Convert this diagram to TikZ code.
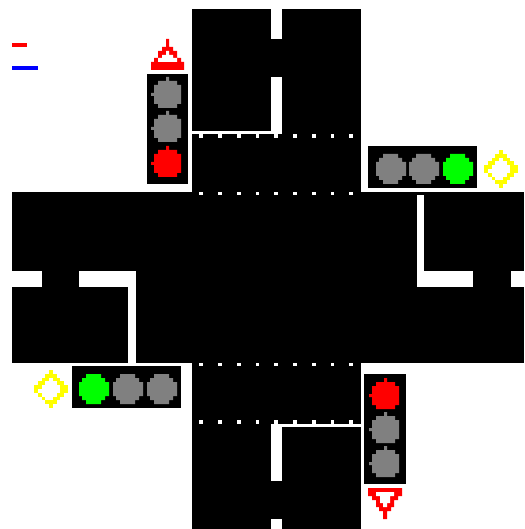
\documentclass[tikz,border=0pt]{standalone}
\definecolor{lampgrey}{gray}{0.5}
\definecolor{signred}{rgb}{1,0,0}
\definecolor{signyellow}{rgb}{1,1,0}
\definecolor{lampgreen}{rgb}{0,1,0}
\definecolor{legendblue}{rgb}{0,0,1}
%% lamp with the two nubs, for the upright signal heads: dx, dy, colour
\newcommand{\nublamp}[3]{%
  \fill[#3,shift={(#1,#2)}] (158,81) -- (177,81) -- (177,85) -- (181,85) -- (181,104) -- (177,104) -- (177,108)
    -- (158,108) -- (158,104) -- (154,104) -- (154,85) -- (158,85) -- cycle
    (166,77) rectangle (169,81) (151,93) rectangle (154,96);}
%% plain lamp, for the lying signal heads: dx, dy, colour
\newcommand{\flatlamp}[3]{%
  \fill[#3,shift={(#1,#2)}] (383,154) -- (398,154) -- (398,158) -- (402,158) -- (402,162) -- (406,162) -- (406,176)
    -- (402,176) -- (402,180) -- (398,180) -- (398,184) -- (383,184) -- (383,180) -- (379,180) -- (379,176)
    -- (376,176) -- (376,162) -- (379,162) -- (379,158) -- (383,158) -- cycle;}
%% the yellow ring, drawn cell by cell: left, top
\newcommand{\ringsign}[2]{%
  \foreach \c/\r in {4/0,3/1,4/1,5/1,2/2,3/2,5/2,6/2,1/3,2/3,6/3,7/3,0/4,1/4,7/4,8/4,0/5,7/5,8/5,
      1/6,6/6,7/6,2/7,5/7,6/7,3/8,4/8,5/8,4/9}
    \fill[signyellow] ({#1+\c*3.78},{#2+\r*3.8}) rectangle ++(3.78,3.8);}
\begin{document}
\begin{tikzpicture}[x=1pt,y=-1pt,
    road/.style={fill=black},
    marking/.style={fill=white},
    head/.style={fill=black}]
  \useasboundingbox (0,0) rectangle (524,529);
  %% legend
  \fill[signred] (12,43) rectangle (27,47);
  \fill[legendblue] (12,66) rectangle (38,70);

  %% the two roads
  \fill[road] (192,9) rectangle (361,529);
  \fill[road] (12,192) rectangle (524,363);

  %% north arm and its stop line
  \fill[marking] (271,9) rectangle (282,39);
  \fill[marking] (271,77) rectangle (282,134);
  \fill[marking] (192,131) rectangle (282,134);
  %% south arm and its stop line
  \fill[marking] (271,424) rectangle (282,481);
  \fill[marking] (271,519) rectangle (282,529);
  \fill[marking] (271,424) rectangle (361,427);
  %% east arm
  \fill[marking] (417,195) rectangle (424,287);
  \fill[marking] (417,271) rectangle (473,287);
  \fill[marking] (511,271) rectangle (524,287);
  %% west arm
  \fill[marking] (12,271) rectangle (42,287);
  \fill[marking] (79,271) rectangle (136,287);
  \fill[marking] (128,271) rectangle (136,363);

  %% crossing dots, four rows
  \foreach \x/\w in {199/4,218/4,237/4,256/3,274/4,293/4,312/4,331/3,349/4} {
    \fill[marking] (\x,134) rectangle ++(\w,4);
    \fill[marking] (\x,192) rectangle ++(\w,3);
    \fill[marking] (\x,363) rectangle ++(\w,3);
    \fill[marking] (\x,420) rectangle ++(\w,4);
  }

  %% signal heads
  \fill[head] (147,74) rectangle (188,184);
  \nublamp{0}{0}{lampgrey}
  \nublamp{0}{34}{lampgrey}
  \nublamp{0}{69}{signred}
  \fill[head] (368,146) rectangle (477,188);
  \flatlamp{0}{0}{lampgrey}
  \flatlamp{33}{0}{lampgrey}
  \flatlamp{67}{0}{lampgreen}
  \fill[head] (72,366) rectangle (181,408);
  \flatlamp{-297}{220}{lampgreen}
  \flatlamp{-263}{220}{lampgrey}
  \flatlamp{-229}{220}{lampgrey}
  \fill[head] (364,374) rectangle (406,484);
  \nublamp{218}{301}{signred}
  \nublamp{218}{335}{lampgrey}
  \nublamp{218}{369}{lampgrey}

  %% red triangles
  \fill[signred] (166,39) -- (169,39) -- (169,47) -- (173,47) -- (173,51) -- (177,51) -- (177,58) -- (181,58)
    -- (181,62) -- (184,62) -- (184,70) -- (151,70) -- (151,62) -- (154,62) -- (154,58) -- (158,58) -- (158,51)
    -- (162,51) -- (162,47) -- (166,47) -- cycle;
  \fill[marking] (158,62) -- (177,62) -- (177,58) -- (173,58) -- (173,55) -- (169,55) -- (169,51) -- (166,51)
    -- (166,55) -- (162,55) -- (162,58) -- (158,58) -- cycle;
  \fill[signred] (368,488) -- (402,488) -- (402,496) -- (398,496) -- (398,500) -- (394,500) -- (394,507) -- (391,507)
    -- (391,511) -- (387,511) -- (387,519) -- (383,519) -- (383,511) -- (379,511) -- (379,507) -- (376,507)
    -- (376,500) -- (372,500) -- (372,496) -- (368,496) -- cycle;
  \fill[marking] (376,492) -- (394,492) -- (394,496) -- (390,496) -- (390,503) -- (387,503) -- (387,507)
    -- (383,507) -- (383,503) -- (380,503) -- (380,496) -- (376,496) -- cycle;

  %% yellow rings
  \ringsign{484}{150}
  \ringsign{34}{370}
\end{tikzpicture}
\end{document}
